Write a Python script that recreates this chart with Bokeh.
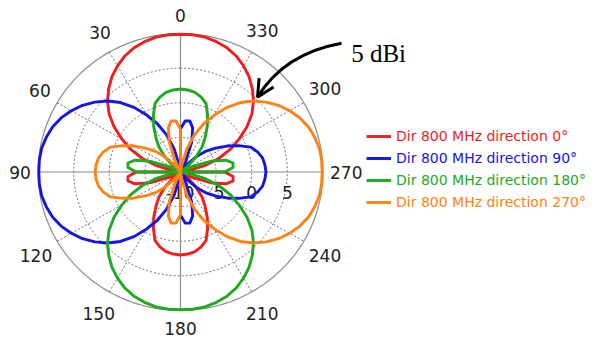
import numpy as np
from bokeh.plotting import figure
from bokeh.models import Legend, LegendItem, Arrow, OpenHead, Label, Range1d
from bokeh.core.properties import value
from bokeh.embed import file_html
from bokeh.resources import INLINE

# ---------------- data ----------------
# measured gain (dBi) vs. angle off the main beam (deg), same for every direction
off_axis_deg = list(range(0, 181, 5))
gain_dbi = [9.9, 9.9, 9.8, 9.5, 9.1, 8.5, 7.7, 6.8, 5.7, 4.5,
            3.1, 1.4, -0.5, -2.3, -4.3, -6.5, -9.0, -12.0, -3.8, -2.6,
            -2.5, -3.4, -5.4, -8.2, -11.0, -10.5, -8.5, -6.9, -5.3, -4.0,
            -2.5, -1.0, 0.5, 1.2, 1.7, 1.9, 2.0]
beam_directions = [0, 90, 180, 270]
series_labels = ["Dir 800 MHz direction 0°", "Dir 800 MHz direction 90°",
                 "Dir 800 MHz direction 180°", "Dir 800 MHz direction 270°"]
series_colors = ["#f01e1e", "#1414e6", "#1eaa1e", "#ff8214"]
angle_ticks = list(range(0, 360, 30))
radial_ticks = [-10, -5, 0, 5]
r_min_db, r_max_db = -10, 10
annot_text = "5 dBi"
annot_angle, annot_db = 315, 5.3

# ---------------- layout ----------------
W, H = 603, 342
CX, CY = 180.0, 171.5          # page px of the pole
SX, SY = 7.12, 6.92            # px per dB horizontally / vertically
MARGIN = 0

def px_to_units(px, py):
    return (px - CX) / SX, (CY - py) / SY

x0u, y1u = px_to_units(MARGIN, MARGIN)
x1u, y0u = px_to_units(MARGIN + W, MARGIN + H)

p = figure(width=W, height=H, output_backend="svg", toolbar_location=None,
           x_range=Range1d(x0u, x1u), y_range=Range1d(y0u, y1u),
           x_axis_type=None, y_axis_type=None, min_border=0,
           outline_line_color=None, background_fill_color="white",
           border_fill_color="white")
p.grid.visible = False

def polar(theta_deg, r):
    t = np.radians(theta_deg)
    return -np.asarray(r) * np.sin(t), np.asarray(r) * np.cos(t)

R_OUT = r_max_db - r_min_db
# rings
circ = np.linspace(0, 360, 361)
for rdb in radial_ticks[1:]:
    xs, ys = polar(circ, np.full_like(circ, rdb - r_min_db))
    p.line(xs, ys, line_color="#707070", line_width=1, line_dash="2 2")
xs, ys = polar(circ, np.full_like(circ, R_OUT))
p.line(xs, ys, line_color="#8c8c8c", line_width=1.2)
# spokes
for a in angle_ticks[:6]:
    xs, ys = polar(np.array([a, a + 180]), np.array([R_OUT, R_OUT]))
    if a % 90 == 0:
        p.line(xs, ys, line_color="#8c8c8c", line_width=1.2)
    else:
        p.line(xs, ys, line_color="#707070", line_width=1, line_dash="2 2")

FONT = value("DejaVu Sans")
# radial tick labels
rx = [t - r_min_db for t in radial_ticks]
ry = [-(20.5 / SY)] * len(radial_ticks)
p.text(x=rx, y=ry, text=[str(t) for t in radial_ticks], text_font=FONT,
       text_font_size="17px", text_align="center", text_baseline="middle",
       text_color="#222222")

# pattern curves
renderers = []
theta = np.arange(0, 361, 5)
for d, col in zip(beam_directions, series_colors):
    off = np.abs(((theta - d + 180) % 360) - 180)
    g = np.array([gain_dbi[off_axis_deg.index(int(o))] for o in off])
    r = np.clip(g - r_min_db, 0, None)
    xs, ys = polar(theta, r)
    renderers.append(p.line(xs, ys, line_color=col, line_width=2.9,
                            line_join="round"))

# angle labels
R_LAB = 150.0
lx, ly = [], []
for a in angle_ticks:
    t = np.radians(a)
    w = 10.5 * len(str(a)); h = 13.0
    ext = abs(np.sin(t)) * w / 2 + abs(np.cos(t)) * h / 2
    dist = R_LAB + ext
    lx.append(-np.sin(t) * dist / SX)
    ly.append(np.cos(t) * dist / SY)
p.text(x=lx, y=ly, text=[str(a) for a in angle_ticks], text_font=FONT,
       text_font_size="17px", text_align="center", text_baseline="middle",
       text_color="#222222")

# legends (one per series for coloured labels)
LEG_X = 366 - MARGIN
row_y = [135.7, 157.7, 179.7, 201.7]
for rend, lab, col, yy in zip(renderers, series_labels, series_colors, row_y):
    leg = Legend(items=[LegendItem(label=lab, renderers=[rend])],
                 location=(LEG_X, (MARGIN + H) - yy - 8),
                 padding=0, margin=0, spacing=0, border_line_color=None,
                 background_fill_alpha=0, glyph_width=25, glyph_height=16,
                 label_height=16, label_standoff=5,
                 label_text_font="DejaVu Sans", label_text_font_size="14px",
                 label_text_color=col)
    p.add_layout(leg)

# annotation arrow "5 dBi"
tip_x, tip_y = polar(annot_angle, annot_db - r_min_db)
tip_x, tip_y = float(tip_x), float(tip_y)
sx0, sy0 = px_to_units(341, 42.7)
cxu, cyu = px_to_units(283.5, 53.1)
p.quadratic(x0=[sx0], y0=[sy0], x1=[tip_x], y1=[tip_y], cx=[cxu], cy=[cyu],
            line_color="black", line_width=3)
tpx, tpy = CX + tip_x * SX, CY - tip_y * SY
vx, vy = (283.5 - tpx), (53.1 - tpy)
nrm = np.hypot(vx, vy); vx, vy = vx / nrm, vy / nrm
bx, by = px_to_units(tpx + 5 * vx, tpy + 5 * vy)
p.add_layout(Arrow(end=OpenHead(size=17, line_width=3, line_color="black"),
                   x_start=bx, y_start=by, x_end=tip_x, y_end=tip_y,
                   line_width=3, line_color="black"))
lbx, lby = px_to_units(350.7, 52.7)
p.add_layout(Label(x=lbx, y=lby, text=annot_text,
                   text_font="Liberation Serif", text_font_size="25px",
                   text_baseline="alphabetic", text_color="black"))

open("out.html", "w").write(file_html(p, INLINE))
